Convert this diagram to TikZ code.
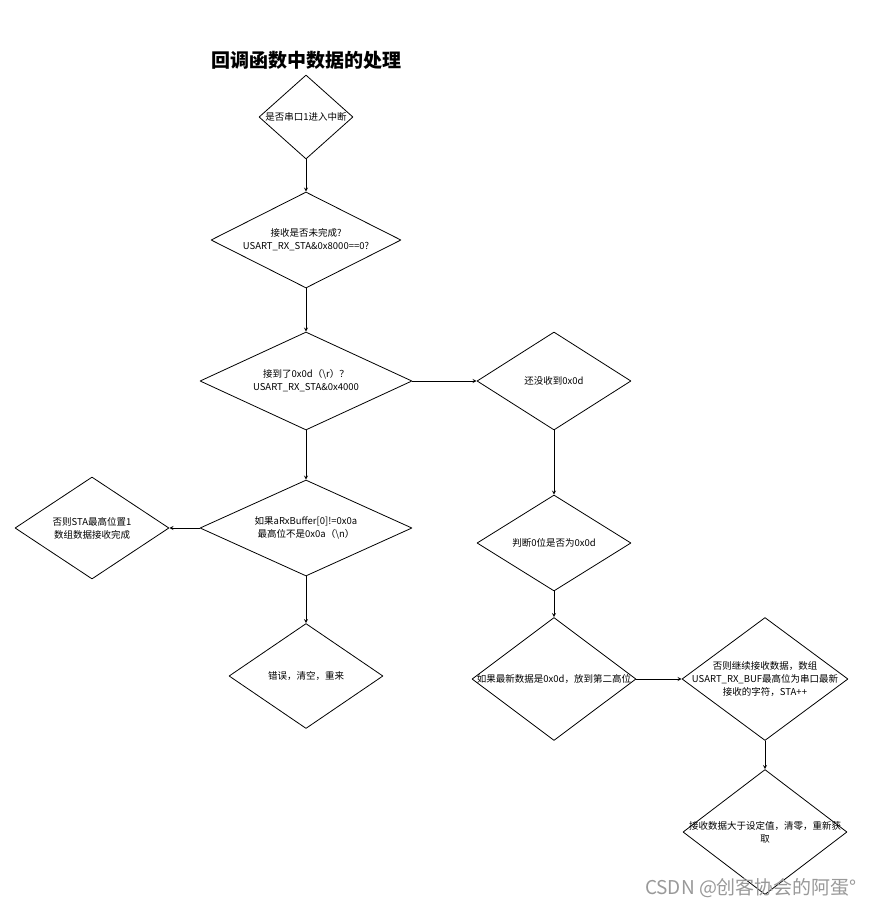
\documentclass[tikz,border=0pt]{standalone}
\usepackage{fontspec}
\setmainfont{Noto Sans CJK SC}
\usetikzlibrary{shapes.geometric}
\tikzset{
  dia/.style={draw,shape=diamond,inner sep=0pt,line width=0.8pt},
  txt/.style={align=center,font=\fontsize{9.5}{13}\selectfont},
}
\begin{document}
\begin{tikzpicture}[line cap=round,line join=round,>=stealth,x=1pt,y=-1pt]
\useasboundingbox[fill=white] (0,0) rectangle (877,908);
\node[font=\fontsize{19}{22}\selectfont\bfseries] (title) at (306,60) {回调函数中数据的处理};
% left column
\node[dia,minimum width=94pt,minimum height=84pt] (d1) at (306,117) {};
\node[txt] at (d1) {是否串口1进入中断};
\node[dia,minimum width=190pt,minimum height=96pt] (d2) at (306,240) {};
\node[txt] at (d2) {接收是否未完成?\\USART\_RX\_STA\&0x8000==0?};
\node[dia,minimum width=212pt,minimum height=98pt] (d3) at (306,381) {};
\node[txt] at (d3) {接到了0x0d（\textbackslash r）？\\USART\_RX\_STA\&0x4000};
\node[dia,minimum width=212pt,minimum height=96pt] (d5) at (306,528) {};
\node[txt] at (d5) {如果aRxBuffer[0]!=0x0a\\最高位不是0x0a（\textbackslash n）};
\node[dia,minimum width=154pt,minimum height=102pt] (d6) at (92,528) {};
\node[txt] at (d6) {否则STA最高位置1\\数组数据接收完成};
\node[dia,minimum width=154pt,minimum height=105pt] (d8) at (306,676) {};
\node[txt] at (d8) {错误，清空，重来};
% right column
\node[dia,minimum width=154pt,minimum height=98pt] (d4) at (554,381) {};
\node[txt] at (d4) {还没收到0x0d};
\node[dia,minimum width=154pt,minimum height=96pt] (d7) at (554,543) {};
\node[txt] at (d7) {判断0位是否为0x0d};
\node[dia,minimum width=164pt,minimum height=123pt] (d9) at (554,679) {};
\node[txt] at (d9) {如果最新数据是0x0d，放到第二高位};
\node[dia,minimum width=166pt,minimum height=123pt] (d10) at (765,679) {};
\node[txt] at (d10) {否则继续接收数据，数组\\USART\_RX\_BUF最高位为串口最新\\接收的字符，STA++};
\node[dia,minimum width=164pt,minimum height=125pt] (d11) at (765,832) {};
\node[txt] at (d11) {接收数据大于设定值，清零，重新获\\取};
\node[font=\fontsize{19}{22}\selectfont,text=black!40] (mark) at (751,888) {CSDN @创客协会的阿蛋°};
% arrows
\draw[->,line width=0.8pt] (d1.south)--(d2.north);
\draw[->,line width=0.8pt] (d2.south)--(d3.north);
\draw[->,line width=0.8pt] (d3.east)--(d4.west);
\draw[->,line width=0.8pt] (d3.south)--(d5.north);
\draw[->,line width=0.8pt] (d5.west)--(d6.east);
\draw[->,line width=0.8pt] (d5.south)--(d8.north);
\draw[->,line width=0.8pt] (d4.south)--(d7.north);
\draw[->,line width=0.8pt] (d7.south)--(d9.north);
\draw[->,line width=0.8pt] (d9.east)--(d10.west);
\draw[->,line width=0.8pt] (d10.south)--(d11.north);
\end{tikzpicture}
\end{document}
